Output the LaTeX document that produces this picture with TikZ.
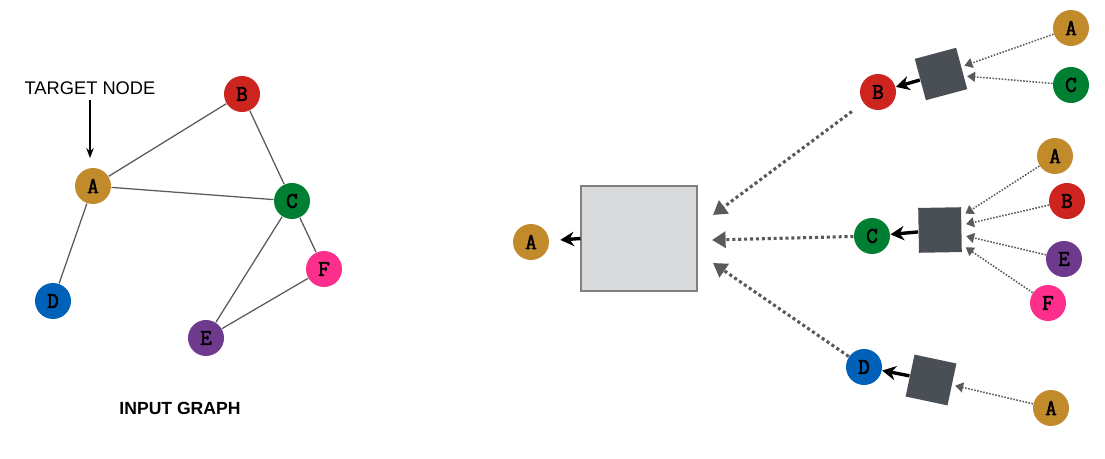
\documentclass[tikz,border=0pt]{standalone}
\usepackage{fontspec}
\setmainfont{Liberation Sans}
\newfontfamily\letrafont[AutoFakeBold=2.5]{Latin Modern Mono}
\usepackage{tikz}
\usetikzlibrary{arrows.meta, positioning}

\definecolor{colA}{HTML}{C18B2C}
\definecolor{colB}{HTML}{CD2420}
\definecolor{colC}{HTML}{007F32}
\definecolor{colD}{HTML}{0061B8}
\definecolor{colE}{HTML}{6E3A8E}
\definecolor{colF}{HTML}{FD2E8C}
\definecolor{agg}{HTML}{4A4E55}
\definecolor{cajagris}{HTML}{D9DADC}
\definecolor{lineagris}{HTML}{5A5A5A}

\begin{document}
\begin{tikzpicture}[x=0.025cm, y=-0.025cm, >=Stealth, thick]
        \tikzstyle{vertice} = [circle, minimum size=0.9cm, inner sep=0pt, font=\letrafont\bfseries\fontsize{16}{16}\selectfont]
        \tikzstyle{arista} = [lineagris, line width=0.9pt]
        \tikzstyle{agregador} = [draw=none, fill=agg, rectangle, inner sep=0pt, minimum width=1.07cm, minimum height=1.07cm]
        \tikzstyle{mensaje} = [lineagris, line width=1.1pt, dash pattern=on 1.1pt off 1.1pt, -{Triangle[length=0.2cm, width=0.25cm]}]
        \tikzstyle{mensajegrande} = [lineagris, line width=2.2pt, dash pattern=on 2.2pt off 2pt, -{Triangle[length=0.34cm, width=0.4cm]}]
        \tikzstyle{salida} = [black, line width=2.4pt, -{Stealth[length=0.34cm, width=0.36cm]}]

        \useasboundingbox (0,0) rectangle (1105,459);

        % Grafo de entrada
        \node[vertice, fill=colA] (gA) at (93,186) {A};
        \node[vertice, fill=colB] (gB) at (242,94) {B};
        \node[vertice, fill=colC] (gC) at (292,201) {C};
        \node[vertice, fill=colD] (gD) at (53,301) {D};
        \node[vertice, fill=colE] (gE) at (206,338) {E};
        \node[vertice, fill=colF] (gF) at (324,269) {F};

        \draw[arista] (gA) -- (gB);
        \draw[arista] (gA) -- (gC);
        \draw[arista] (gA) -- (gD);
        \draw[arista] (gB) -- (gC);
        \draw[arista] (gC) -- (gE);
        \draw[arista] (gC) -- (gF);
        \draw[arista] (gE) -- (gF);

        \node[font=\fontsize{13}{13}\selectfont] (objetivo) at (90,88) {TARGET NODE};
        \coordinate (flecha) at (90,158); % punta sobre A
        \draw[->, line width=0.9pt] (objetivo) -- (flecha);

        \node[font=\bfseries\fontsize{12.5}{12.5}\selectfont] (titulo) at (180,408) {INPUT GRAPH};

        % Nodo objetivo y caja
        \node[vertice, fill=colA] (tA) at (531,242) {A};
        \node[draw=gray, line width=0.8pt, fill=cajagris, minimum width=2.9cm, minimum height=2.625cm] (caja) at (639,238.5) {};
        \draw[salida, shorten >=0.27cm] (caja.west) -- (tA);

        % Primer nivel
        \node[vertice, fill=colB] (hB) at (878,92) {B};
        \node[vertice, fill=colC] (hC) at (872,236) {C};
        \node[vertice, fill=colD] (hD) at (864,367) {D};

        \coordinate (inB) at (713,215);
        \coordinate (inC) at (712,240);
        \coordinate (inD) at (713,263);
        \draw[mensajegrande, shorten <=0.35cm] (hB) -- (inB);
        \draw[mensajegrande] (hC) -- (inC);
        \draw[mensajegrande] (hD) -- (inD);

        % Segundo nivel
        \node[agregador, rotate=15] (sqB) at (941,74) {};
        \node[agregador, rotate=1, minimum height=1.12cm] (sqC) at (940,230) {};
        \node[agregador, rotate=-12] (sqD) at (931,380) {};

        \draw[salida] (sqB) -- (hB);
        \draw[salida] (sqC) -- (hC);
        \draw[salida] (sqD) -- (hD);

        \node[vertice, fill=colA] (bA) at (1071,28) {A};
        \node[vertice, fill=colC] (bC) at (1071,85) {C};
        \node[vertice, fill=colA] (cA) at (1055,156) {A};
        \node[vertice, fill=colB] (cB) at (1067,201) {B};
        \node[vertice, fill=colE] (cE) at (1064,259) {E};
        \node[vertice, fill=colF] (cF) at (1048,303) {F};
        \node[vertice, fill=colA] (dA) at (1051,408) {A};

        \draw[mensaje, shorten >=2pt] (bA) -- (sqB);
        \draw[mensaje, shorten >=2pt] (bC) -- (sqB);
        \draw[mensaje, shorten >=3pt] (cA) -- (sqC);
        \draw[mensaje, shorten >=3pt] (cB) -- (sqC);
        \draw[mensaje, shorten >=3pt] (cE) -- (sqC);
        \draw[mensaje, shorten >=3pt] (cF) -- (sqC);
        \draw[mensaje, shorten >=2pt] (dA) -- (sqD);

\end{tikzpicture}
\end{document}
